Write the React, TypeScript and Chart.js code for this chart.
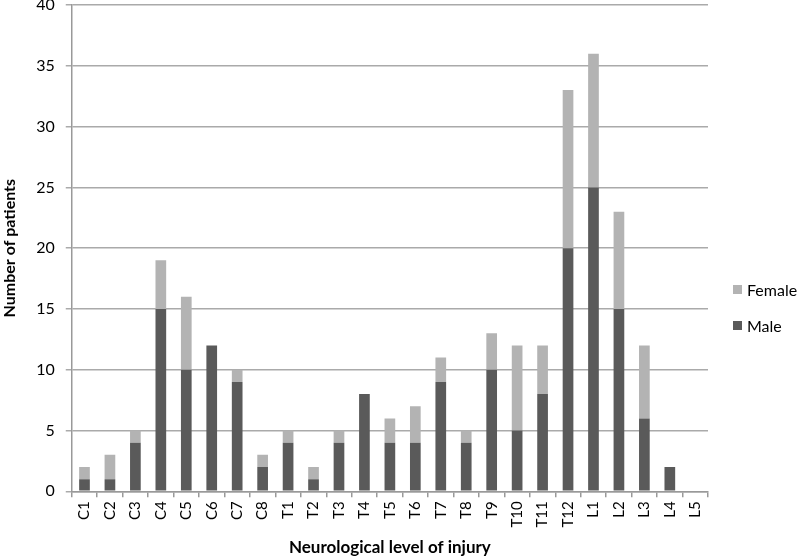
import React, { useEffect, useRef } from "react";
import { Chart, registerables } from "chart.js";

Chart.register(...registerables);

const categories = ["C1","C2","C3","C4","C5","C6","C7","C8","T1","T2","T3","T4","T5","T6","T7","T8","T9","T10","T11","T12","L1","L2","L3","L4","L5"];
const maleValues = [1,1,4,15,10,12,9,2,4,1,4,8,4,4,9,4,10,5,8,20,25,15,6,2,0];
const femaleValues = [1,2,1,4,6,0,1,1,1,1,1,0,2,3,2,1,3,7,4,13,11,8,6,0,0];
const yTicks = [0,5,10,15,20,25,30,35,40];

const MALE = "#5a5a5a";
const FEMALE = "#b3b3b3";
const FONT = "Lato, 'Open Sans', sans-serif";

export default function App() {
  const ref = useRef<HTMLCanvasElement>(null);
  useEffect(() => {
    const chart = new Chart(ref.current!, {
      type: "bar",
      data: {
        labels: categories,
        datasets: [
          { label: "Male", data: maleValues, backgroundColor: MALE, barPercentage: 0.42, categoryPercentage: 1 },
          { label: "Female", data: femaleValues, backgroundColor: FEMALE, barPercentage: 0.42, categoryPercentage: 1 },
        ],
      },
      options: {
        animation: false,
        responsive: false,
        maintainAspectRatio: false,
        layout: { padding: { left: 0, right: 92, top: 5, bottom: 0 } },
        plugins: { legend: { display: false }, tooltip: { enabled: false } },
        scales: {
          x: {
            stacked: true,
            offset: true,
            grid: { drawOnChartArea: false, drawTicks: true, tickLength: 6, color: "#999", lineWidth: 1.5, offset: true },
            border: { color: "#999", width: 1.5 },
            ticks: { color: "#000", font: { family: FONT, size: 15 }, minRotation: 90, maxRotation: 90, padding: 4, autoSkip: false },
            title: { display: true, text: "Neurological level of injury", color: "#000", font: { family: FONT, size: 17, weight: "bold" }, padding: { top: 6, bottom: 0 } },
          },
          y: {
            stacked: true,
            min: 0,
            max: 40,
            afterBuildTicks: (axis: any) => { axis.ticks = yTicks.map((v) => ({ value: v })); },
            afterFit: (axis: any) => { axis.paddingTop = 0; axis.paddingBottom = 0; },
            grid: { color: "#aaa", lineWidth: 1.5, tickLength: 6, drawTicks: true },
            border: { color: "#999", width: 1.5 },
            ticks: { color: "#000", font: { family: FONT, size: 16 }, padding: 11 },
            title: { display: true, text: "Number of patients", color: "#000", font: { family: FONT, size: 16, weight: "bold" }, padding: { top: 0, bottom: 6 } },
          },
        },
      },
    });
    return () => chart.destroy();
  }, []);

  const legendItem = (color: string, text: string, top: number) => (
    <div style={{ position: "absolute", left: 733, top, display: "flex", alignItems: "center", fontFamily: FONT, fontSize: 16, color: "#000" }}>
      <span style={{ display: "inline-block", width: 9, height: 9, background: color, marginRight: 5 }} />
      {text}
    </div>
  );

  return (
    <div style={{ position: "fixed", left: 0, top: 0, width: 800, height: 558, background: "#fff" }}>
      <canvas ref={ref} width={800} height={558} />
      {legendItem(FEMALE, "Female", 280)}
      {legendItem(MALE, "Male", 316)}
    </div>
  );
}
